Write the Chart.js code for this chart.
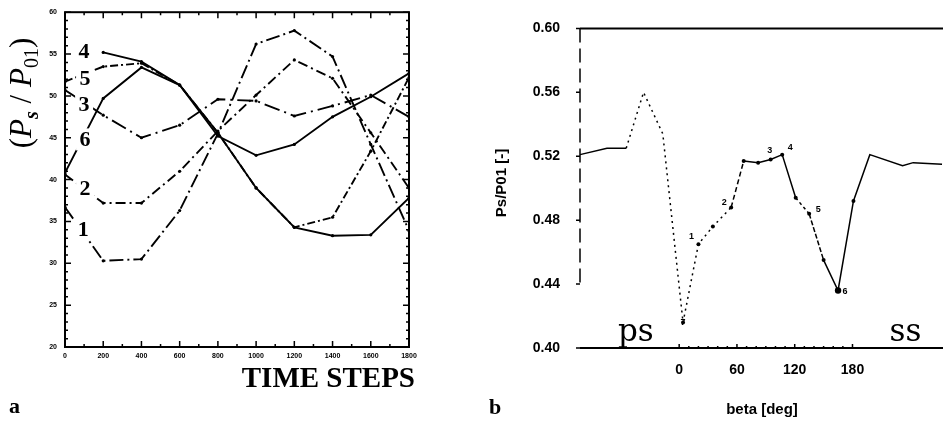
<!DOCTYPE html>
<html>
<head>
<meta charset="utf-8">
<script src="https://cdn.jsdelivr.net/npm/chart.js@4.4.1/dist/chart.umd.min.js"></script>
<style>
html, body { margin: 0; padding: 0; background: #fff; }
body { width: 943px; height: 423px; position: relative; overflow: hidden; }
#chartA { position: absolute; left: 0; top: 0; }
#chartB { position: absolute; left: 470px; top: 0; }
</style>
</head>
<body>
<canvas id="chartA" width="470" height="423"></canvas>
<canvas id="chartB" width="473" height="423"></canvas>
<script>
// painel a: pressão ao longo dos passos de tempo
const timeSteps = [0, 200, 400, 600, 800, 1000, 1200, 1400, 1600, 1800];
const curve1 = [36.7, 30.3, 30.5, 36.3, 45.5, 56.2, 57.8, 54.7, 44.2, 33.9];
const curve2 = [40.6, 37.2, 37.2, 41.0, 45.8, 50.1, 54.3, 52.1, 45.6, 39.0];
const curve3 = [50.7, 47.7, 45.0, 46.5, 49.6, 49.4, 47.6, 48.8, 50.1, 47.5];
const curve4 = [null, 55.2, 54.1, 51.3, 45.6, 39.0, 34.3, 33.3, 33.4, 37.8];
const curve5 = [51.7, 53.5, 53.9, 51.3, 45.6, 39.0, 34.3, 35.5, 43.4, 52.2];
const curve6 = [40.8, 49.7, 53.4, 51.3, 45.2, 42.9, 44.2, 47.5, 49.9, 52.7];
const pressTicks = [20, 25, 30, 35, 40, 45, 50, 55, 60];

// painel b: distribuição em torno da pá
const betaDeg = [-103, -75, -55, -37, -17, 4, 20, 35, 54, 67, 82, 95, 107, 121, 135, 150, 165, 181, 198, 232, 243, 273];
const psRatio = [0.521, 0.525, 0.525, 0.560, 0.534, 0.416, 0.465, 0.476, 0.488, 0.517, 0.516, 0.518, 0.521, 0.494, 0.484, 0.455, 0.436, 0.492, 0.521, 0.514, 0.516, 0.515];
const betaTicks = [0, 60, 120, 180];
const ratioTicks = [0.40, 0.44, 0.48, 0.52, 0.56, 0.60];

const serif = '"Liberation Serif", "DejaVu Serif", serif';
const sans = '"Liberation Sans", Arial, sans-serif';

function toXY(xs, ys) {
    return xs.map((x, i) => ({ x: x, y: ys[i] }));
}

// ---------- painel a ----------
const curvesA = [
    { n: '1', data: curve1, dash: [14, 4, 2, 4] },
    { n: '2', data: curve2, dash: [10, 4, 2, 4] },
    { n: '3', data: curve3, dash: [16, 5, 2, 5] },
    { n: '4', data: curve4, dash: [] },
    { n: '5', data: curve5, dash: [8, 3, 2, 3] },
    { n: '6', data: curve6, dash: [] }
];

// posição dos números das curvas (unidades do gráfico)
const curveTags = [
    { n: '4', t: 100, v: 55.3 },
    { n: '5', t: 105, v: 52.1 },
    { n: '3', t: 100, v: 49.0 },
    { n: '6', t: 105, v: 44.8 },
    { n: '2', t: 105, v: 38.9 },
    { n: '1', t: 95, v: 34.1 }
];

const frameA = {
    id: 'frameA',
    beforeDatasetsDraw(chart) {
        const { ctx, chartArea: a, scales: { x, y } } = chart;
        ctx.save();
        ctx.strokeStyle = '#000';
        ctx.lineWidth = 2;
        ctx.strokeRect(a.left, a.top, a.right - a.left, a.bottom - a.top);
        ctx.lineWidth = 1.5;
        ctx.beginPath();
        for (let v = 20; v <= 60; v++) {
            const py = y.getPixelForValue(v);
            const len = v % 5 === 0 ? 6 : 3;
            ctx.moveTo(a.left, py); ctx.lineTo(a.left + len, py);
            ctx.moveTo(a.right, py); ctx.lineTo(a.right - len, py);
        }
        for (let t = 0; t <= 1800; t += 100) {
            const px = x.getPixelForValue(t);
            const len = t % 200 === 0 ? 6 : 3;
            ctx.moveTo(px, a.bottom); ctx.lineTo(px, a.bottom - len);
            ctx.moveTo(px, a.top); ctx.lineTo(px, a.top + len);
        }
        ctx.stroke();
        ctx.restore();
    },
    afterDatasetsDraw(chart) {
        const { ctx, scales: { x, y } } = chart;
        ctx.save();
        ctx.font = 'bold 22px ' + serif;
        ctx.textAlign = 'center';
        ctx.textBaseline = 'middle';
        curveTags.forEach(tag => {
            const px = x.getPixelForValue(tag.t);
            const py = y.getPixelForValue(tag.v);
            ctx.fillStyle = '#fff';
            ctx.fillRect(px - 9, py - 11, 18, 22);
            ctx.fillStyle = '#000';
            ctx.fillText(tag.n, px, py + 1);
        });
        ctx.restore();
    },
    afterDraw(chart) {
        const { ctx } = chart;
        ctx.save();
        ctx.fillStyle = '#000';
        // título vertical (Ps/P01) com índices
        const parts = [
            { t: '(', f: '31px ' + serif, dy: 0 },
            { t: 'P', f: 'italic 31px ' + serif, dy: 0 },
            { t: 's', f: 'italic bold 20px ' + serif, dy: 7 },
            { t: ' / ', f: '31px ' + serif, dy: 0 },
            { t: 'P', f: 'italic 31px ' + serif, dy: 0 },
            { t: '01', f: '20px ' + serif, dy: 7 },
            { t: ')', f: '31px ' + serif, dy: 0 }
        ];
        let total = 0;
        parts.forEach(p => { ctx.font = p.f; p.w = ctx.measureText(p.t).width; total += p.w; });
        ctx.translate(31, 93);
        ctx.rotate(-Math.PI / 2);
        ctx.textBaseline = 'alphabetic';
        ctx.textAlign = 'left';
        let cx = -total / 2;
        parts.forEach(p => {
            ctx.font = p.f;
            ctx.fillText(p.t, cx, p.dy);
            cx += p.w;
        });
        ctx.setTransform(1, 0, 0, 1, 0, 0);
        ctx.font = 'bold 29px ' + serif;
        ctx.textAlign = 'right';
        ctx.fillText('TIME STEPS', 415, 387);
        ctx.font = 'bold 22px ' + serif;
        ctx.textAlign = 'left';
        ctx.fillText('a', 9, 413);
        ctx.restore();
    }
};

new Chart(document.getElementById('chartA'), {
    type: 'line',
    data: {
        datasets: curvesA.map(c => ({
            label: c.n,
            data: toXY(timeSteps, c.data),
            borderColor: '#000',
            backgroundColor: '#000',
            borderWidth: 1.9,
            borderDash: c.dash,
            pointRadius: 1.6,
            pointBorderWidth: 0,
            tension: 0
        }))
    },
    options: {
        responsive: false,
        animation: false,
        layout: { padding: { top: 10, right: 61, left: 0, bottom: 0 } },
        plugins: { legend: { display: false }, tooltip: { enabled: false } },
        scales: {
            x: {
                type: 'linear', min: 0, max: 1800,
                afterBuildTicks: s => { s.ticks = timeSteps.map(v => ({ value: v })); },
                afterFit: s => { s.height = 76; },
                grid: { display: false, drawTicks: false },
                border: { display: false },
                ticks: {
                    color: '#000', padding: 5, maxRotation: 0,
                    font: { size: 7, weight: 'bold', family: sans },
                    callback: v => String(v)
                }
            },
            y: {
                type: 'linear', min: 20, max: 60,
                afterBuildTicks: s => { s.ticks = pressTicks.map(v => ({ value: v })); },
                afterFit: s => { s.width = 65; },
                grid: { display: false, drawTicks: false },
                border: { display: false },
                ticks: {
                    color: '#000', padding: 8,
                    font: { size: 7, weight: 'bold', family: sans },
                    callback: v => String(v)
                }
            }
        }
    },
    plugins: [frameA]
});

// ---------- painel b ----------
// números dos pontos de medição: índice do ponto e deslocamento do rótulo
const pointTags = [
    { n: '7', i: 5, dx: 0, dy: 0 },
    { n: '1', i: 6, dx: -7, dy: -8 },
    { n: '2', i: 8, dx: -7, dy: -5 },
    { n: '3', i: 11, dx: -1, dy: -9 },
    { n: '4', i: 12, dx: 8, dy: -7 },
    { n: '5', i: 14, dx: 9, dy: -4 },
    { n: '6', i: 16, dx: 7, dy: 1 }
];

function segDash(ctx) {
    const i = ctx.p0DataIndex;
    if (i >= 2 && i <= 7) return [2, 4];
    if (i === 8) return [5, 3];
    if (i === 13) return [3, 3];
    if (i === 14) return [5, 2];
    return [];
}

const frameB = {
    id: 'frameB',
    beforeDatasetsDraw(chart) {
        const { ctx, chartArea: a, scales: { x, y } } = chart;
        ctx.save();
        ctx.strokeStyle = '#000';
        ctx.lineWidth = 2;
        ctx.beginPath();
        ctx.moveTo(a.left, y.getPixelForValue(0.60)); ctx.lineTo(a.right, y.getPixelForValue(0.60));
        ctx.moveTo(a.left, y.getPixelForValue(0.40)); ctx.lineTo(a.right, y.getPixelForValue(0.40));
        ctx.stroke();
        // eixo vertical tracejado
        ctx.lineWidth = 1.5;
        ctx.setLineDash([14, 6]);
        ctx.beginPath();
        ctx.moveTo(a.left, y.getPixelForValue(0.60));
        ctx.lineTo(a.left, y.getPixelForValue(0.44));
        ctx.stroke();
        ctx.setLineDash([]);
        ctx.beginPath();
        ratioTicks.forEach(v => {
            const py = y.getPixelForValue(v);
            ctx.moveTo(a.left - 4, py); ctx.lineTo(a.left, py);
        });
        for (let b = 0; b <= 180; b += 10) {
            const px = x.getPixelForValue(b);
            const len = b % 60 === 0 ? 4 : 2;
            ctx.moveTo(px, a.bottom); ctx.lineTo(px, a.bottom - len);
        }
        ctx.stroke();
        ctx.restore();
    },
    afterDatasetsDraw(chart) {
        const { ctx, scales: { x, y } } = chart;
        ctx.save();
        ctx.fillStyle = '#000';
        ctx.font = 'bold 9px ' + sans;
        ctx.textAlign = 'center';
        ctx.textBaseline = 'middle';
        pointTags.forEach(p => {
            const px = x.getPixelForValue(betaDeg[p.i]) + p.dx;
            const py = y.getPixelForValue(psRatio[p.i]) + p.dy;
            ctx.fillText(p.n, px, py);
        });
        // lados da pá
        ctx.font = '31px "DejaVu Serif", serif';
        ctx.textBaseline = 'alphabetic';
        ctx.fillText('ps', x.getPixelForValue(-45), y.getPixelForValue(0.4045));
        ctx.fillText('ss', x.getPixelForValue(235), y.getPixelForValue(0.4045));
        ctx.restore();
    },
    afterDraw(chart) {
        const { ctx } = chart;
        ctx.save();
        ctx.fillStyle = '#000';
        ctx.font = 'bold 15px ' + sans;
        ctx.textAlign = 'center';
        ctx.textBaseline = 'middle';
        ctx.fillText('beta [deg]', 292, 410);
        ctx.translate(32, 183);
        ctx.rotate(-Math.PI / 2);
        ctx.fillText('Ps/P01 [-]', 0, 0);
        ctx.setTransform(1, 0, 0, 1, 0, 0);
        ctx.font = 'bold 22px ' + serif;
        ctx.textAlign = 'left';
        ctx.textBaseline = 'alphabetic';
        ctx.fillText('b', 19, 414);
        ctx.restore();
    }
};

new Chart(document.getElementById('chartB'), {
    type: 'line',
    data: {
        datasets: [{
            label: 'Ps/P01',
            data: toXY(betaDeg, psRatio),
            borderColor: '#000',
            backgroundColor: '#000',
            borderWidth: 1.5,
            pointRadius: betaDeg.map((b, i) => (i === 16 ? 3.2 : (i >= 5 && i <= 17 ? 2 : 0))),
            pointBorderWidth: 0,
            tension: 0,
            segment: { borderDash: segDash }
        }]
    },
    options: {
        responsive: false,
        animation: false,
        clip: false,
        layout: { padding: { top: 15, right: 0, left: 0, bottom: 0 } },
        plugins: { legend: { display: false }, tooltip: { enabled: false } },
        scales: {
            x: {
                type: 'linear', min: -103, max: 274,
                afterBuildTicks: s => { s.ticks = betaTicks.map(v => ({ value: v })); },
                afterFit: s => { s.height = 75; },
                grid: { display: false, drawTicks: false },
                border: { display: false },
                ticks: { color: '#000', padding: 14, maxRotation: 0, font: { size: 14, weight: 'bold', family: sans } }
            },
            y: {
                type: 'linear', min: 0.40, max: 0.60,
                afterBuildTicks: s => { s.ticks = ratioTicks.map(v => ({ value: v })); },
                afterFit: s => { s.width = 110; },
                grid: { display: false, drawTicks: false },
                border: { display: false },
                ticks: {
                    color: '#000', padding: 20,
                    font: { size: 14, weight: 'bold', family: sans },
                    callback: v => v.toFixed(2)
                }
            }
        }
    },
    plugins: [frameB]
});
</script>
</body>
</html>
